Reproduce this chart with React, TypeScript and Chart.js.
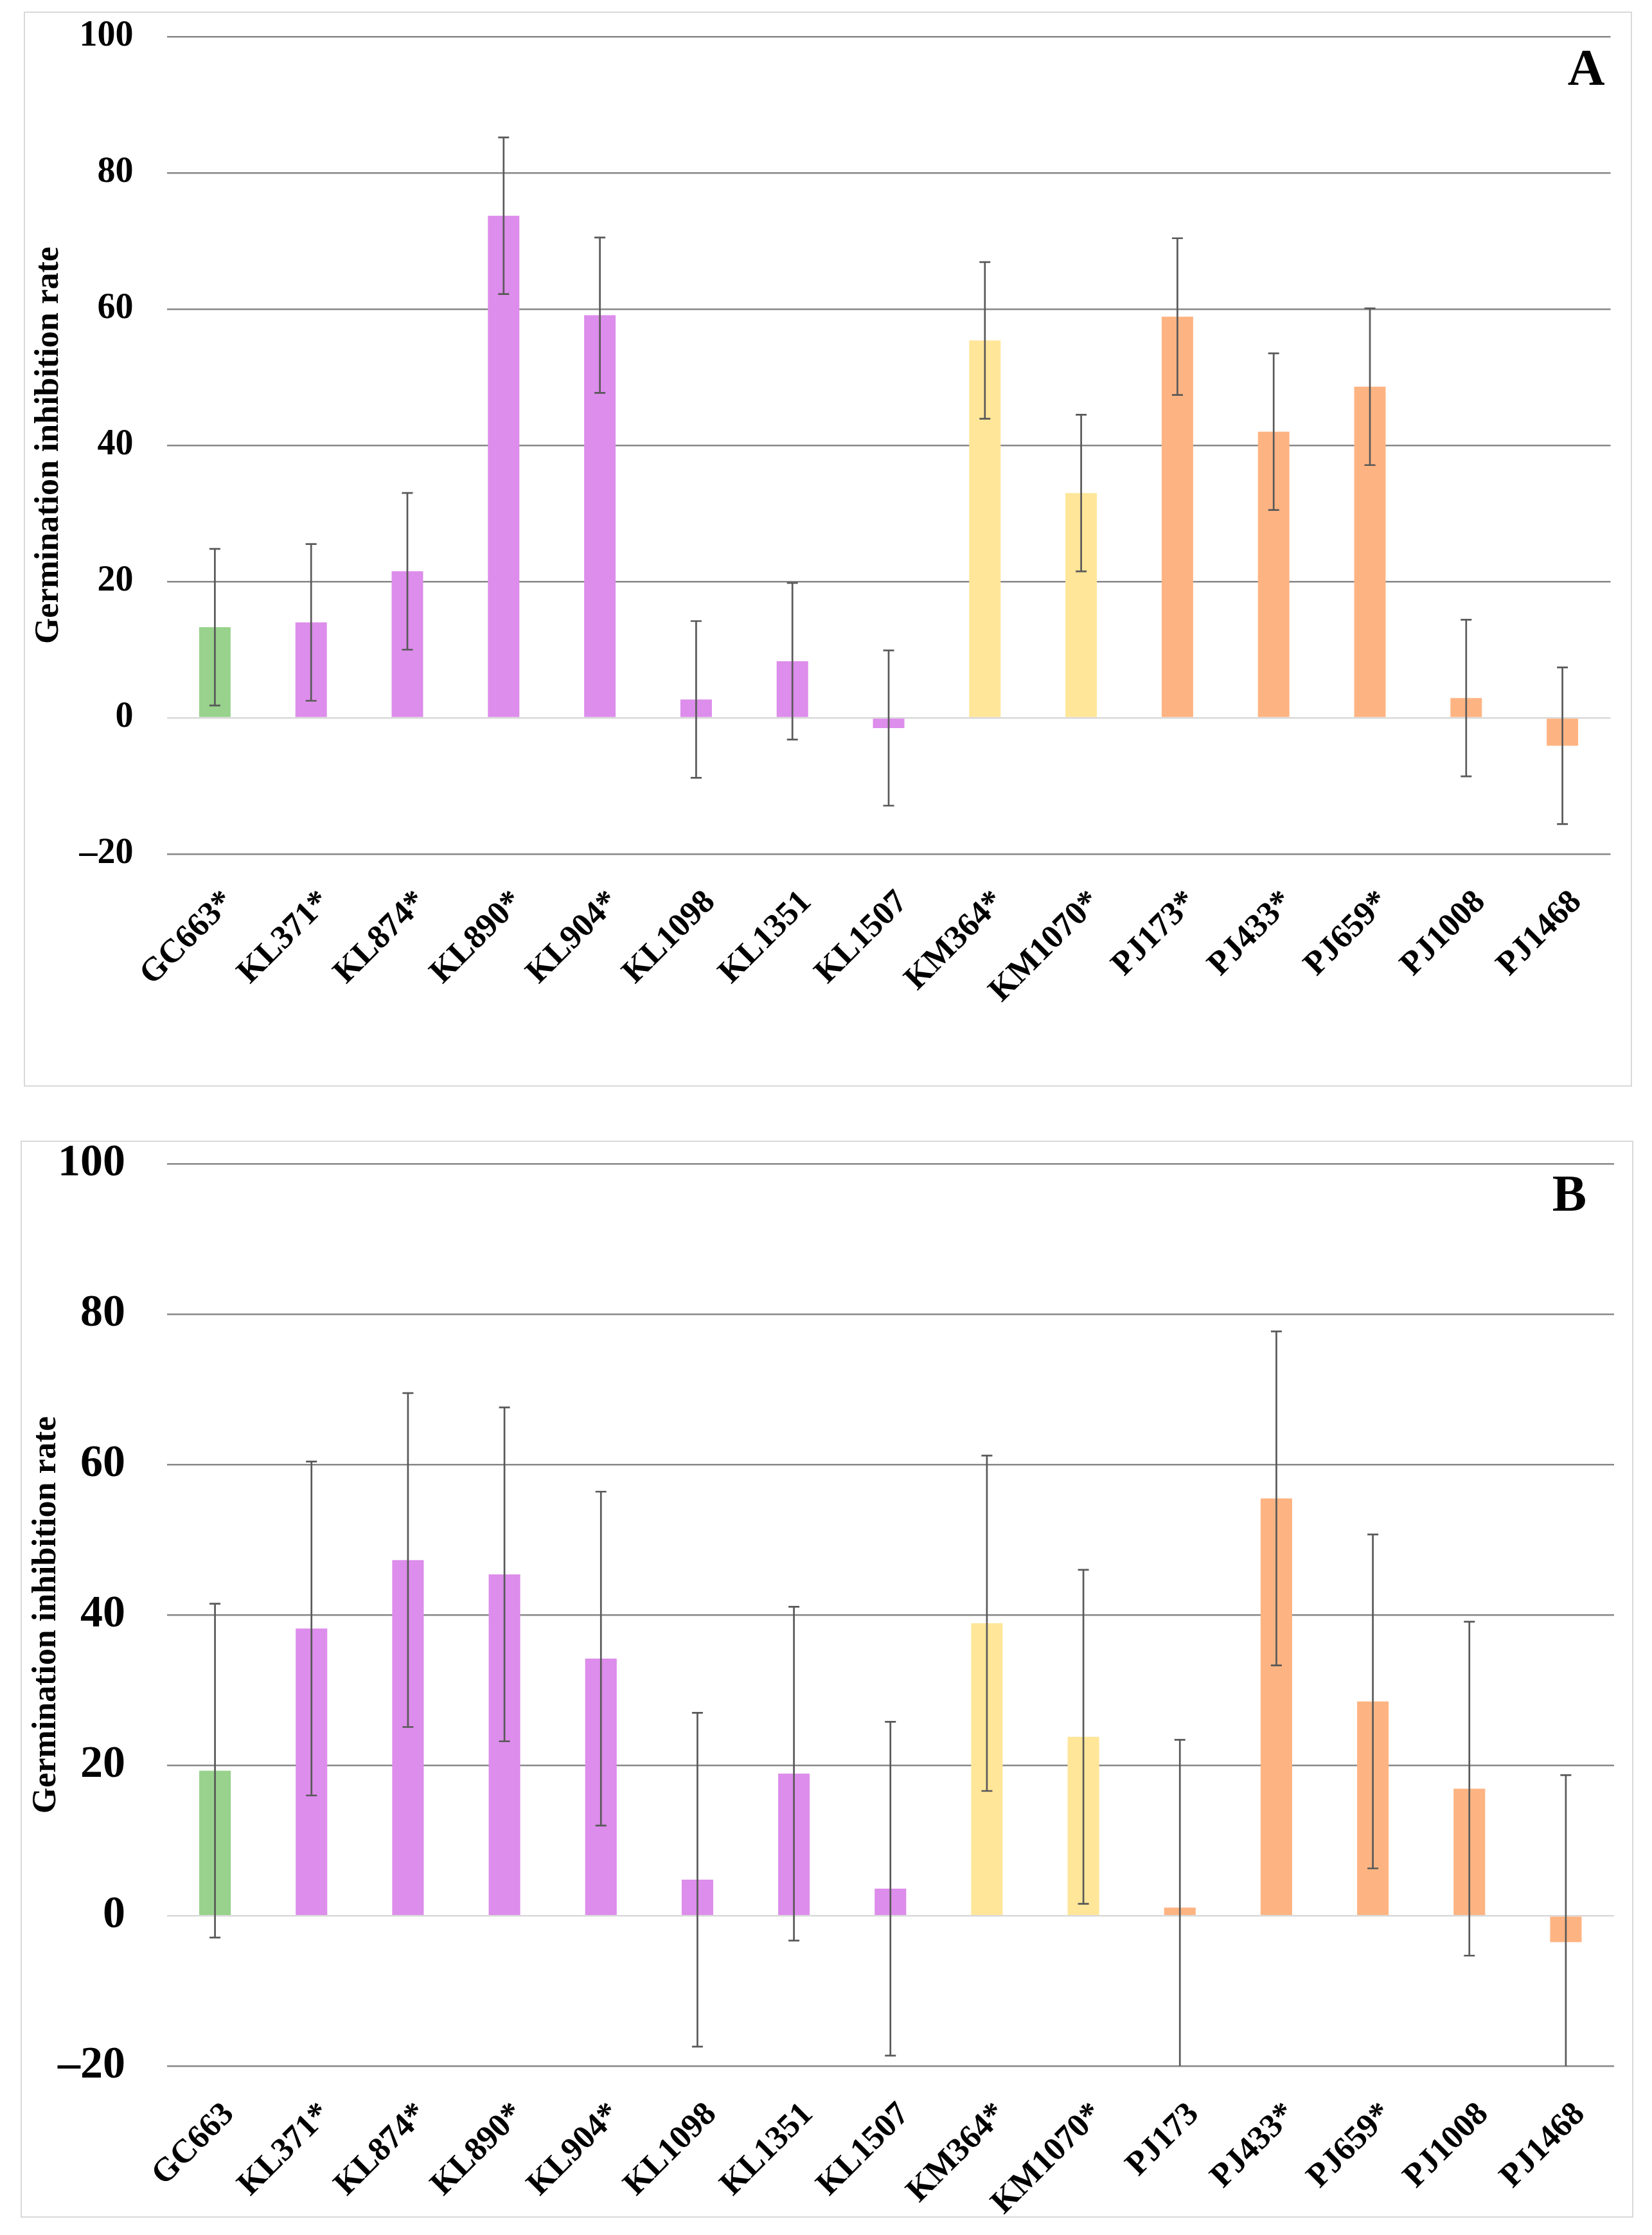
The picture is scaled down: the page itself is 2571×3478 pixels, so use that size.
import React, { useEffect, useRef } from 'react';
import { Chart, registerables } from 'chart.js';

Chart.register(...registerables);

// ---------- data ----------
const categoriesA = ['GC663*', 'KL371*', 'KL874*', 'KL890*', 'KL904*', 'KL1098', 'KL1351', 'KL1507', 'KM364*', 'KM1070*', 'PJ173*', 'PJ433*', 'PJ659*', 'PJ1008', 'PJ1468'];
const valuesA = [13.3, 14.0, 21.5, 73.7, 59.1, 2.7, 8.3, -1.5, 55.4, 33.0, 58.9, 42.0, 48.6, 2.9, -4.1];
const errorsA = [11.5, 11.5, 11.5, 11.5, 11.4, 11.5, 11.5, 11.4, 11.5, 11.5, 11.5, 11.5, 11.5, 11.5, 11.5];

const categoriesB = ['GC663', 'KL371*', 'KL874*', 'KL890*', 'KL904*', 'KL1098', 'KL1351', 'KL1507', 'KM364*', 'KM1070*', 'PJ173', 'PJ433*', 'PJ659*', 'PJ1008', 'PJ1468'];
const valuesB = [19.3, 38.2, 47.3, 45.4, 34.2, 4.8, 18.9, 3.6, 38.9, 23.8, 1.1, 55.5, 28.5, 16.9, -3.5];
const errorsB = [22.2, 22.2, 22.2, 22.2, 22.2, 22.2, 22.2, 22.2, 22.3, 22.2, 22.3, 22.2, 22.2, 22.2, 22.2];

const yTickValues = [-20, 0, 20, 40, 60, 80, 100];
const yAxisTitle = 'Germination inhibition rate';

const groupColors: Record<string, string> = {
  GC: '#98D28C',
  KL: '#DD8DEB',
  KM: '#FFE699',
  PJ: '#FEB482',
};

const FONT = "'Liberation Serif', 'Times New Roman', serif";

// ---------- plugins ----------
const errorBarPlugin = {
  id: 'errorBars',
  afterDatasetsDraw(chart: any, _args: any, opts: any) {
    const { ctx, chartArea } = chart;
    const meta = chart.getDatasetMeta(0);
    const yScale = chart.scales.y;
    const data = chart.data.datasets[0].data as number[];
    const errs: number[] = opts.errors || [];
    const cap = 8.5;
    ctx.save();
    ctx.beginPath();
    ctx.rect(chartArea.left, chartArea.top - 1, chartArea.right - chartArea.left, chartArea.bottom - chartArea.top + 1);
    ctx.clip();
    ctx.strokeStyle = '#595959';
    ctx.lineWidth = 2.7;
    meta.data.forEach((bar: any, i: number) => {
      const v = data[i];
      const e = errs[i];
      const x = bar.x;
      const yHi = yScale.getPixelForValue(v + e);
      const yLo = yScale.getPixelForValue(v - e);
      ctx.beginPath();
      ctx.moveTo(x, yHi);
      ctx.lineTo(x, yLo);
      ctx.moveTo(x - cap, yHi);
      ctx.lineTo(x + cap, yHi);
      ctx.moveTo(x - cap, yLo);
      ctx.lineTo(x + cap, yLo);
      ctx.stroke();
    });
    ctx.restore();
  },
};

const panelLabelPlugin = {
  id: 'panelLabel',
  afterDraw(chart: any, _args: any, opts: any) {
    const { ctx, chartArea } = chart;
    ctx.save();
    ctx.font = `bold 80px ${FONT}`;
    ctx.fillStyle = '#000000';
    ctx.textAlign = 'right';
    ctx.textBaseline = 'alphabetic';
    ctx.fillText(opts.text, chartArea.right + opts.dx, chartArea.top + opts.dy);
    ctx.restore();
  },
};

// ---------- panel ----------
type PanelProps = {
  categories: string[];
  values: number[];
  errors: number[];
  label: string;
  frame: { left: number; top: number; width: number; height: number };
  padTop: number;
  padRight: number;
  yAxisWidth: number;
  xAxisHeight: number;
  tickFont: number;
  tickPad: number;
  titlePad: number;
  labelDx: number;
  labelDy: number;
};

function Panel(p: PanelProps) {
  const ref = useRef<HTMLCanvasElement | null>(null);
  const cw = p.frame.width - 4;
  const ch = p.frame.height - 4;

  useEffect(() => {
    if (!ref.current) return;
    const colors = p.categories.map((c) => groupColors[c.slice(0, 2)]);
    const chart = new Chart(ref.current, {
      type: 'bar',
      data: {
        labels: p.categories,
        datasets: [
          {
            data: p.values,
            backgroundColor: colors,
            borderWidth: 0,
            barPercentage: 0.327,
            categoryPercentage: 1.0,
          },
        ],
      },
      options: {
        animation: false,
        responsive: false,
        devicePixelRatio: 1,
        layout: { padding: { top: p.padTop, right: p.padRight, left: 0, bottom: 0 } },
        plugins: {
          legend: { display: false },
          tooltip: { enabled: false },
          errorBars: { errors: p.errors },
          panelLabel: { text: p.label, dx: p.labelDx, dy: p.labelDy },
        } as any,
        scales: {
          x: {
            grid: { display: false, drawTicks: false },
            border: { display: false },
            ticks: {
              autoSkip: false,
              maxRotation: 45,
              minRotation: 45,
              padding: 45,
              labelOffset: 22,
              color: '#000000',
              font: { family: FONT, size: 52, weight: 'bold' },
            },
            afterFit: (scale: any) => {
              scale.height = p.xAxisHeight;
              scale.paddingLeft = 0;
              scale.paddingRight = 0;
            },
          },
          y: {
            min: -20,
            max: 100,
            afterBuildTicks: (scale: any) => {
              scale.ticks = yTickValues.map((v) => ({ value: v }));
            },
            grid: {
              drawTicks: false,
              lineWidth: 2.5,
              color: (ctx: any) => (ctx.tick && ctx.tick.value === 0 ? '#D9D9D9' : '#878787'),
            },
            border: { display: false },
            ticks: {
              padding: p.tickPad,
              color: '#000000',
              font: { family: FONT, size: p.tickFont, weight: 'bold' },
              callback: (v: any) => (Number(v) < 0 ? '\u2013' + Math.abs(Number(v)) : String(v)),
            },
            title: {
              display: true,
              text: yAxisTitle,
              color: '#000000',
              font: { family: FONT, size: 52, weight: 'bold' },
              padding: { top: p.titlePad, bottom: 0 },
            },
            afterFit: (scale: any) => {
              scale.width = p.yAxisWidth;
              scale.paddingTop = 0;
              scale.paddingBottom = 0;
            },
          },
        },
      },
      plugins: [errorBarPlugin, panelLabelPlugin],
    });
    return () => chart.destroy();
  }, []);

  return (
    <div
      style={{
        position: 'absolute',
        left: p.frame.left,
        top: p.frame.top,
        width: p.frame.width,
        height: p.frame.height,
        border: '2px solid #D9D9D9',
        boxSizing: 'border-box',
        background: '#FFFFFF',
      }}
    >
      <canvas ref={ref} width={cw} height={ch} style={{ display: 'block', width: cw, height: ch }} />
    </div>
  );
}

export default function App() {
  return (
    <div style={{ position: 'absolute', left: 0, top: 0, width: 2571, height: 3478, background: '#FFFFFF' }}>
      <Panel
        categories={categoriesA}
        values={valuesA}
        errors={errorsA}
        label="A"
        frame={{ left: 37, top: 18, width: 2503, height: 1673 }}
        padTop={37}
        padRight={31.5}
        yAxisWidth={220.5}
        xAxisHeight={360}
        tickFont={56}
        tickPad={52}
        titlePad={6}
        labelDx={-9}
        labelDy={75}
      />
      <Panel
        categories={categoriesB}
        values={valuesB}
        errors={errorsB}
        label="B"
        frame={{ left: 32, top: 1775, width: 2510, height: 1676 }}
        padTop={34}
        padRight={28}
        yAxisWidth={225.5}
        xAxisHeight={233.7}
        tickFont={70}
        tickPad={64.5}
        titlePad={7}
        labelDx={-43}
        labelDy={73}
      />
    </div>
  );
}
